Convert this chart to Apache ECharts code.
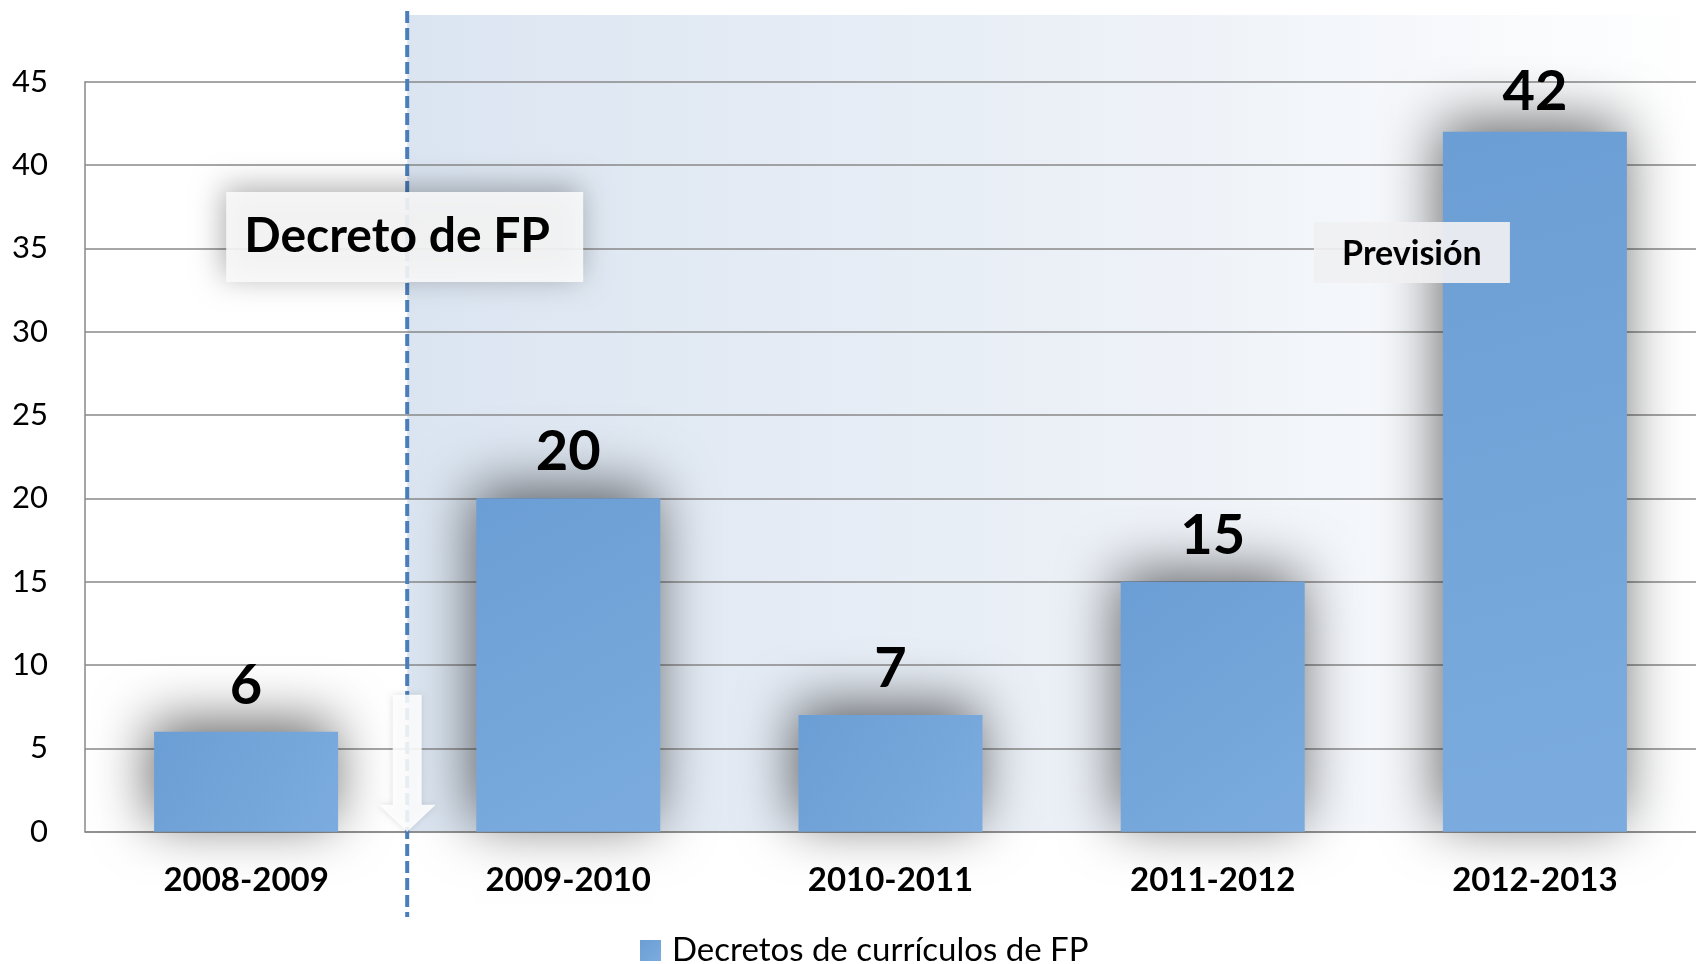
<!DOCTYPE html>
<html>
<head>
<meta charset="utf-8">
<script src="https://cdn.jsdelivr.net/npm/echarts@6/dist/echarts.min.js"></script>
<style>
  html, body { margin: 0; padding: 0; background: #fff; }
  #chart { width: 1696px; height: 964px; }
</style>
</head>
<body>
<div id="chart"></div>
<script>
const categories = ['2008-2009', '2009-2010', '2010-2011', '2011-2012', '2012-2013']
const decretos = [6, 20, 7, 15, 42]
const seriesName = 'Decretos de currículos de FP'
const yMin = 0
const yMax = 45
const yStep = 5
const noteDecreto = 'Decreto de FP'
const notePrevision = 'Previsión'

const FONT = 'Lato, "Open Sans", sans-serif'
const chart = echarts.init(document.getElementById('chart'))

// la última etiqueta queda más pegada a la barra
const barData = decretos.map((v, i) =>
  i === decretos.length - 1 ? { value: v, label: { distance: 12 } } : v
)

const option = {
  animation: false,
  backgroundColor: '#fff',
  grid: { left: 85, right: 0, top: 81.7, bottom: 132.3 },
  legend: {
    data: [seriesName],
    left: 635,
    top: 929,
    itemWidth: 21,
    itemHeight: 21,
    icon: 'rect',
    textStyle: { fontFamily: FONT, fontSize: 33, color: '#000', padding: [0, 0, 0, 6] }
  },
  xAxis: {
    type: 'category',
    data: categories,
    axisTick: { show: false },
    axisLine: { lineStyle: { color: '#898989', width: 1.5 } },
    axisLabel: { fontFamily: FONT, fontSize: 33, fontWeight: 'bold', color: '#000', margin: 32 }
  },
  yAxis: {
    type: 'value',
    min: yMin,
    max: yMax,
    interval: yStep,
    axisLine: { show: true, lineStyle: { color: '#898989', width: 1.5 } },
    splitLine: { lineStyle: { color: '#898989', width: 1.5 } },
    axisLabel: { fontFamily: FONT, fontSize: 31, color: '#000', margin: 37 }
  },
  series: [
    {
      name: seriesName,
      type: 'bar',
      data: barData,
      barWidth: 184,
      itemStyle: {
        color: new echarts.graphic.LinearGradient(0, 0, 1, 1, [
          { offset: 0, color: '#6b9ed4' },
          { offset: 1, color: '#7cacdf' }
        ]),
        shadowBlur: 55,
        shadowColor: 'rgba(0, 0, 0, 0.6)',
        shadowOffsetX: -4,
        shadowOffsetY: -10
      },
      label: {
        show: true,
        position: 'top',
        distance: 18,
        fontFamily: FONT,
        fontSize: 56,
        fontWeight: 'bold',
        color: '#000'
      }
    }
  ]
}
chart.setOption(option)

/** 注释：背景、虚线、箭头、文字框 */
const x0 = chart.convertToPixel({ xAxisIndex: 0 }, categories[0])
const x1 = chart.convertToPixel({ xAxisIndex: 0 }, categories[1])
const xLast = chart.convertToPixel({ xAxisIndex: 0 }, categories[categories.length - 1])
const zeroY = chart.convertToPixel({ yAxisIndex: 0 }, yMin)
const bx = (x0 + x1) / 2
const rightX = chart.getWidth()

chart.setOption({
  graphic: [
    {
      type: 'rect',
      z: -1,
      silent: true,
      shape: { x: bx, y: 15, width: rightX - bx, height: zeroY - 15 },
      style: {
        fill: new echarts.graphic.LinearGradient(0, 0, 1, 0, [
          { offset: 0, color: 'rgba(219, 229, 241, 1)' },
          { offset: 0.6, color: 'rgba(238, 242, 248, 1)' },
          { offset: 1, color: 'rgba(255, 255, 255, 1)' }
        ])
      }
    },
    {
      type: 'line',
      z: 10,
      silent: true,
      shape: { x1: bx, y1: 11, x2: bx, y2: 917 },
      style: { stroke: '#4a7ebb', lineWidth: 4, lineDash: [12, 5] }
    },
    {
      type: 'polygon',
      z: 11,
      silent: true,
      shape: {
        points: [
          [bx - 14.5, zeroY - 137], [bx + 14.5, zeroY - 137], [bx + 14.5, zeroY - 27],
          [bx + 28.5, zeroY - 27], [bx, zeroY], [bx - 28.5, zeroY - 27], [bx - 14.5, zeroY - 27]
        ]
      },
      style: { fill: 'rgba(255, 255, 255, 0.88)', shadowBlur: 6, shadowColor: 'rgba(0,0,0,0.15)' }
    },
    {
      type: 'rect',
      z: 11,
      silent: true,
      shape: { x: bx - 181, y: 192, width: 357, height: 90 },
      style: {
        fill: 'rgba(249, 249, 249, 0.9)',
        shadowBlur: 30,
        shadowColor: 'rgba(0, 0, 0, 0.35)',
        shadowOffsetX: -3,
        shadowOffsetY: -5
      }
    },
    {
      type: 'text',
      z: 12,
      silent: true,
      style: {
        x: bx - 163,
        y: 237,
        text: noteDecreto,
        font: 'bold 48px ' + FONT,
        fill: '#000',
        verticalAlign: 'middle'
      }
    },
    {
      type: 'rect',
      z: 11,
      silent: true,
      shape: { x: xLast - 221, y: 222, width: 196, height: 61 },
      style: { fill: 'rgba(240, 240, 242, 0.92)' }
    },
    {
      type: 'text',
      z: 12,
      silent: true,
      style: {
        x: xLast - 123,
        y: 254,
        text: notePrevision,
        font: 'bold 34px ' + FONT,
        fill: '#000',
        align: 'center',
        verticalAlign: 'middle'
      }
    }
  ]
})
</script>
</body>
</html>
